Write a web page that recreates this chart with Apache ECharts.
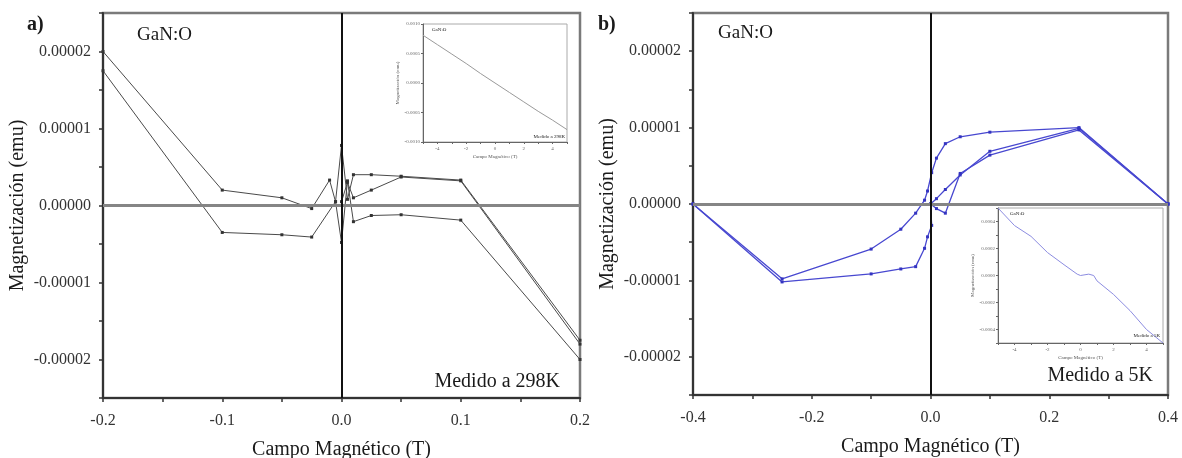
<!DOCTYPE html>
<html><head><meta charset="utf-8">
<script src="https://cdn.jsdelivr.net/npm/echarts@6/dist/echarts.min.js"></script>
<style>html,body{margin:0;padding:0;background:#fff}#c{width:1182px;height:458px}</style>
</head><body><div id="c"></div>
<script>
// ---------- Panel a: GaN:O measured at 298 K (field T, magnetization emu) ----------
const fieldA1 = [-0.2, -0.1, -0.05, -0.025, -0.01, -0.005, 0, 0.005, 0.01, 0.025, 0.05, 0.1, 0.2];
const magA1   = [2.0e-5, 0.2e-5, 0.1e-5, -0.04e-5, 0.33e-5, 0.05e-5, 0.78e-5, 0.08e-5, 0.40e-5, 0.40e-5, 0.38e-5, 0.33e-5, -1.75e-5];
const fieldA2 = [-0.2, -0.1, -0.05, -0.025, -0.005, 0, 0.005, 0.01, 0.025, 0.05, 0.1, 0.2];
const magA2   = [1.75e-5, -0.35e-5, -0.38e-5, -0.41e-5, 0.05e-5, -0.48e-5, 0.32e-5, -0.21e-5, -0.13e-5, -0.12e-5, -0.19e-5, -2.0e-5];
const fieldA3 = [0, 0.005, 0.01, 0.025, 0.05, 0.1, 0.2];
const magA3   = [0.05e-5, 0.3e-5, 0.1e-5, 0.2e-5, 0.37e-5, 0.32e-5, -1.8e-5];

// ---------- Panel b: GaN:O measured at 5 K ----------
const fieldB1 = [0, 0.01, 0.025, 0.05, 0.1, 0.25, 0.4];
const magB1   = [0, 0.07e-5, 0.19e-5, 0.38e-5, 0.69e-5, 0.99e-5, 0];
const fieldB2 = [0.4, 0.25, 0.1, 0.05, 0.025, 0.01, 0.002, -0.005, -0.01, -0.025, -0.05, -0.1, -0.25, -0.4];
const magB2   = [0, 1.0e-5, 0.94e-5, 0.88e-5, 0.79e-5, 0.6e-5, 0.41e-5, 0.17e-5, 0.05e-5, -0.12e-5, -0.33e-5, -0.59e-5, -0.98e-5, 0];
const fieldB3 = [-0.4, -0.25, -0.1, -0.05, -0.025, -0.01, -0.005, 0.002, 0, 0.01, 0.025, 0.05, 0.1, 0.25, 0.4];
const magB3   = [0, -1.02e-5, -0.915e-5, -0.85e-5, -0.82e-5, -0.58e-5, -0.43e-5, -0.28e-5, 0, -0.06e-5, -0.12e-5, 0.40e-5, 0.64e-5, 0.97e-5, 0];

// ---------- Insets (wide field range) ----------
const insetFieldA = [-5, -4, -3, -2, -1, 0, 1, 2, 3, 4, 5];
const insetMagA   = [0.00081, 0.00065, 0.00049, 0.00033, 0.00016, 0, -0.00016, -0.00032, -0.00048, -0.00063, -0.00079];
const insetFieldB = [-5, -4, -3, -2, -1, -0.2, 0, 0.5, 0.8, 1, 2, 3, 4, 5];
const insetMagB   = [0.0005, 0.00037, 0.00029, 0.00017, 0.00008, 0.00001, 0, 0.00001, 0, -0.00004, -0.00014, -0.00026, -0.0004, -0.0005];

// tick label sets
const yLabelStep = 0.00001;
const xLabelStepA = 0.1;
const xLabelStepB = 0.2;

const zip = (xs, ys) => xs.map((x, i) => [x, ys[i]]);
const FONT = 'Liberation Serif, Times New Roman, serif';
const isMult = (v, s) => Math.abs(Math.round(v / s) * s - v) < s * 1e-6;

function mainX(gi, min, max, interval, step, gap) {
  return {
    type: 'value', gridIndex: gi, min, max, interval,
    name: 'Campo Magnético (T)', nameLocation: 'middle', nameGap: gap,
    nameTextStyle: { fontFamily: FONT, fontSize: 20, color: '#1a1a1a' },
    axisLine: { show: true, onZero: false, lineStyle: { color: '#333', width: 2 } },
    axisTick: { show: true, inside: false, length: 4, lineStyle: { color: '#333', width: 1.5 } },
    axisLabel: { fontFamily: FONT, fontSize: 16, color: '#333', margin: 15,
      formatter: v => isMult(v, step) ? (Math.round(v / step) * step).toFixed(1) : '' },
    splitLine: { show: false }
  };
}
function mainY(gi) {
  return {
    type: 'value', gridIndex: gi, min: -0.000025, max: 0.000025, interval: 0.000005,
    name: 'Magnetización (emu)', nameLocation: 'middle', nameGap: 75,
    nameTextStyle: { fontFamily: FONT, fontSize: 20, color: '#1a1a1a' },
    axisLine: { show: true, onZero: false, lineStyle: { color: '#333', width: 2 } },
    axisTick: { show: true, inside: false, length: 4, lineStyle: { color: '#333', width: 1.5 } },
    axisLabel: { fontFamily: FONT, fontSize: 16, color: '#333', margin: 12,
      formatter: v => isMult(v, yLabelStep) ? (Math.round(v / yLabelStep) * yLabelStep).toFixed(5) : '' },
    splitLine: { show: false }
  };
}
function insetX(gi) {
  return {
    type: 'value', gridIndex: gi, min: -5, max: 5, interval: 1,
    name: 'Campo Magnético (T)', nameLocation: 'middle', nameGap: 12,
    nameTextStyle: { fontFamily: FONT, fontSize: 5, color: '#555' },
    axisLine: { show: true, onZero: false, lineStyle: { color: '#666', width: 1 } },
    axisTick: { show: true, inside: false, length: 2, lineStyle: { color: '#666' } },
    axisLabel: { fontFamily: FONT, fontSize: 5, color: '#666', margin: 4,
      formatter: v => isMult(v, 2) ? String(Math.round(v)) : '' },
    splitLine: { show: false }
  };
}
function insetY(gi, min, max, interval, step, gap) {
  return {
    type: 'value', gridIndex: gi, min, max, interval,
    name: 'Magnetización (emu)', nameLocation: 'middle', nameGap: gap,
    nameTextStyle: { fontFamily: FONT, fontSize: 5, color: '#555' },
    axisLine: { show: true, onZero: false, lineStyle: { color: '#666', width: 1 } },
    axisTick: { show: true, inside: false, length: 2, lineStyle: { color: '#666' } },
    axisLabel: { fontFamily: FONT, fontSize: 5, color: '#666', margin: 3,
      formatter: v => isMult(v, step) ? (Math.round(v / step) * step).toFixed(4) : '' },
    splitLine: { show: false }
  };
}

const zeroLines = {
  silent: true, symbol: 'none', label: { show: false }, animation: false,
  data: [
    { yAxis: 0, lineStyle: { color: '#858585', width: 3, type: 'solid' } },
    { xAxis: 0, lineStyle: { color: '#111', width: 2, type: 'solid' } }
  ]
};

const blackLine = (d, extra) => Object.assign({
  type: 'line', xAxisIndex: 0, yAxisIndex: 0, data: d, symbol: 'rect', symbolSize: 3,
  lineStyle: { color: '#4a4a4a', width: 1 }, itemStyle: { color: '#333' }, animation: false, z: 3
}, extra || {});
const blueLine = (d, extra) => Object.assign({
  type: 'line', xAxisIndex: 1, yAxisIndex: 1, data: d, symbol: 'rect', symbolSize: 3,
  lineStyle: { color: '#4848d0', width: 1.3 }, itemStyle: { color: '#3434c0' }, animation: false, z: 3
}, extra || {});

const txt = (x, y, text, size, opts) => ({
  type: 'text', x, y, z: 100,
  style: Object.assign({ text, font: (opts && opts.bold ? 'bold ' : '') + size + 'px ' + FONT,
    fill: '#1a1a1a', textAlign: (opts && opts.align) || 'left', textVerticalAlign: 'middle' }, (opts && opts.style) || {})
});

const gridBase = { show: true, containLabel: false, outerBoundsMode: 'none' };

const chart = echarts.init(document.getElementById('c'), null, { renderer: 'canvas' });
chart.setOption({
  backgroundColor: '#fff',
  animation: false,
  grid: [
    Object.assign({ left: 103, top: 13, width: 477, height: 385, borderColor: '#7a7a7a', borderWidth: 2.5, backgroundColor: 'transparent' }, gridBase),
    Object.assign({ left: 693, top: 13, width: 475, height: 382, borderColor: '#7a7a7a', borderWidth: 2.5, backgroundColor: 'transparent' }, gridBase),
    Object.assign({ left: 423, top: 24, width: 144, height: 118, borderColor: '#aaa', borderWidth: 1, backgroundColor: '#fff', z: 5 }, gridBase),
    Object.assign({ left: 998, top: 208, width: 165, height: 135, borderColor: '#aaa', borderWidth: 1, backgroundColor: '#fff', z: 5 }, gridBase)
  ],
  xAxis: [
    mainX(0, -0.2, 0.2, 0.05, xLabelStepA, 42),
    mainX(1, -0.4, 0.4, 0.1, xLabelStepB, 42),
    Object.assign(insetX(2), { z: 6 }),
    Object.assign(insetX(3), { z: 6 })
  ],
  yAxis: [
    mainY(0),
    mainY(1),
    Object.assign(insetY(2, -0.001, 0.001, 0.0005, 0.0005, 19), { z: 6 }),
    Object.assign(insetY(3, -0.0005, 0.0005, 0.0001, 0.0002, 22), { z: 6 })
  ],
  series: [
    blackLine(zip(fieldA1, magA1), { markLine: zeroLines }),
    blackLine(zip(fieldA2, magA2)),
    blackLine(zip(fieldA3, magA3)),
    blueLine(zip(fieldB1, magB1), { markLine: zeroLines }),
    blueLine(zip(fieldB2, magB2)),
    blueLine(zip(fieldB3, magB3)),
    { type: 'line', xAxisIndex: 2, yAxisIndex: 2, data: zip(insetFieldA, insetMagA), showSymbol: false,
      lineStyle: { color: '#9a9a9a', width: 1 }, z: 7, animation: false },
    { type: 'line', xAxisIndex: 3, yAxisIndex: 3, data: zip(insetFieldB, insetMagB), showSymbol: false,
      lineStyle: { color: '#8c8ce0', width: 1 }, z: 7, animation: false }
  ],
  graphic: [
    txt(27, 25, 'a)', 20, { bold: true }),
    txt(598, 25, 'b)', 20, { bold: true }),
    txt(137, 35, 'GaN:O', 19),
    txt(718, 33, 'GaN:O', 19),
    txt(560, 382, 'Medido a 298K', 20, { align: 'right' }),
    txt(1153, 376, 'Medido a 5K', 20, { align: 'right' }),
    txt(432, 30, 'GaN:O', 5),
    txt(565, 137, 'Medido a 298K', 5, { align: 'right' }),
    txt(1010, 214, 'GaN:O', 5),
    txt(1160, 336, 'Medido a 5K', 5, { align: 'right' })
  ]
});
</script>
</body></html>
